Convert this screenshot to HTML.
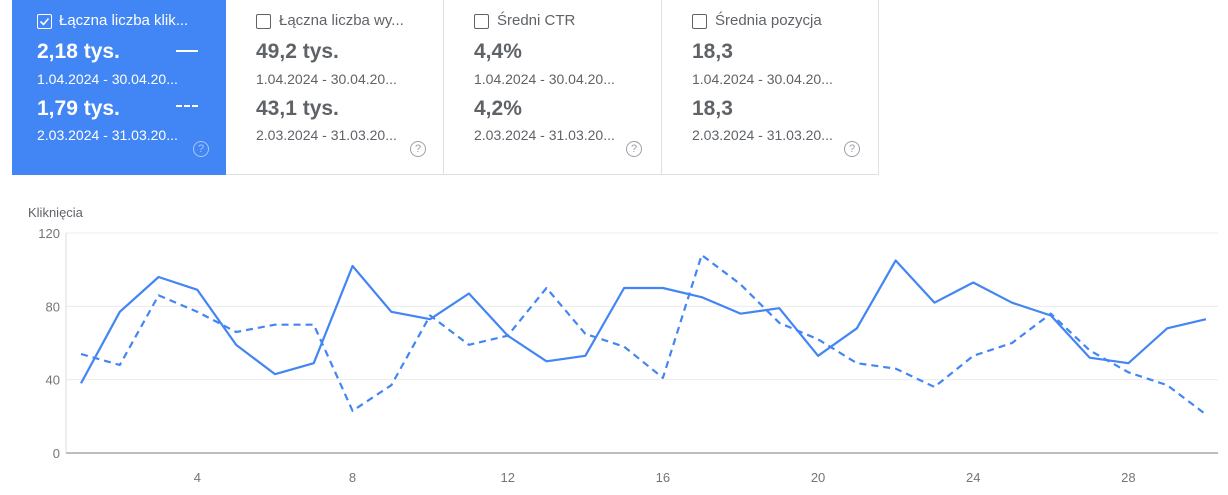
<!DOCTYPE html>
<html><head><meta charset="utf-8">
<style>
body{margin:0;width:1228px;height:495px;background:#fff;font-family:"Liberation Sans",Arial,sans-serif;position:relative;overflow:hidden}
.card{position:absolute;top:0;height:175px;box-sizing:border-box;border-right:1px solid #e0e0e0;border-bottom:1px solid #e0e0e0;color:#5f6368}
.card.sel{background:#4285f4;color:#fff;border:none}
.t{position:absolute;white-space:nowrap}
.cb{position:absolute;left:25px;top:14px;width:13px;height:13px;border:1.5px solid #5f6368;border-radius:2px}
.sel .cb{border-color:#fff}
.title{left:47px;top:12px;font-size:15px}
.v{left:25px;font-size:21px;font-weight:bold}
.d{left:25px;font-size:14px}
.help{position:absolute;width:14px;height:14px;border:1.5px solid #9aa0a6;border-radius:50%;font-size:11px;text-align:center;line-height:14px;color:#9aa0a6}
.sel .help{border-color:#a8c7fa;color:#a8c7fa}
</style></head><body>
<div class="card sel" style="left:12px;width:214px">
 <div class="cb"><svg width="13" height="13" viewBox="0 0 13 13"><path d="M2.5 6.5l3 3 5-6" stroke="#fff" stroke-width="1.6" fill="none"/></svg></div>
 <div class="t title">Łączna liczba klik...</div>
 <div class="t v" style="top:40px">2,18 tys.</div>
 <div style="position:absolute;left:164px;top:50px;width:22px;height:2px;background:#fff"></div>
 <div class="t d" style="top:71px">1.04.2024 - 30.04.20...</div>
 <div class="t v" style="top:97px">1,79 tys.</div>
 <div style="position:absolute;left:164px;top:105px;width:22px;height:0;border-top:2px dashed #fff"></div>
 <div class="t d" style="top:127px">2.03.2024 - 31.03.20...</div>
 <div class="help" style="left:181px;top:141px">?</div>
</div>
<div class="card" style="left:226px;width:218px">
 <div class="cb" style="left:30px"></div>
 <div class="t title" style="left:53px">Łączna liczba wy...</div>
 <div class="t v" style="top:40px;left:30px">49,2 tys.</div>
 <div class="t d" style="top:71px;left:30px">1.04.2024 - 30.04.20...</div>
 <div class="t v" style="top:97px;left:30px">43,1 tys.</div>
 <div class="t d" style="top:127px;left:30px">2.03.2024 - 31.03.20...</div>
 <div class="help" style="left:184px;top:141px">?</div>
</div>
<div class="card" style="left:444px;width:218px">
 <div class="cb" style="left:30px"></div>
 <div class="t title" style="left:53px">Średni CTR</div>
 <div class="t v" style="top:40px;left:30px">4,4%</div>
 <div class="t d" style="top:71px;left:30px">1.04.2024 - 30.04.20...</div>
 <div class="t v" style="top:97px;left:30px">4,2%</div>
 <div class="t d" style="top:127px;left:30px">2.03.2024 - 31.03.20...</div>
 <div class="help" style="left:182px;top:141px">?</div>
</div>
<div class="card" style="left:662px;width:217px">
 <div class="cb" style="left:30px"></div>
 <div class="t title" style="left:53px">Średnia pozycja</div>
 <div class="t v" style="top:40px;left:30px">18,3</div>
 <div class="t d" style="top:71px;left:30px">1.04.2024 - 30.04.20...</div>
 <div class="t v" style="top:97px;left:30px">18,3</div>
 <div class="t d" style="top:127px;left:30px">2.03.2024 - 31.03.20...</div>
 <div class="help" style="left:182px;top:141px">?</div>
</div>
<svg id="chart" width="1228" height="495" style="position:absolute;left:0;top:0"></svg>
<script>
const days=[1,2,3,4,5,6,7,8,9,10,11,12,13,14,15,16,17,18,19,20,21,22,23,24,25,26,27,28,29,30];
const currentClicks=[38,77,96,89,59,43,49,102,77,73,87,64,50,53,90,90,85,76,79,53,68,105,82,93,82,75,52,49,68,73];
const previousClicks=[54,48,86,77,66,70,70,23,37,75,59,64,90,65,58,41,108,92,71,62,49,46,36,53,60,76,56,44,37,21];
const yTicks=[0,40,80,120];
const xTicks=[4,8,12,16,20,24,28];
const svg=document.getElementById('chart');const NS='http://www.w3.org/2000/svg';
const X0=66,X1=1218,Y0=453,Y1=233;
const xs=d=>81+(d-1)*(1206-81)/29;
const ys=v=>Y0-(v/120)*(Y0-Y1);
function mk(tag,attrs){const e=document.createElementNS(NS,tag);for(const k in attrs)e.setAttribute(k,attrs[k]);svg.appendChild(e);return e;}
const yt=mk('text',{x:28,y:217,'font-size':13,fill:'#5f6368','font-family':'Liberation Sans, sans-serif'});yt.textContent='Kliknięcia';


yTicks.forEach(v=>{
 const g=mk('line',{x1:X0,x2:X1,y1:ys(v),y2:ys(v),stroke:v===0?'#bdbdbd':'#ececec','stroke-width':v===0?2:1});
 
 
 const t=mk('text',{x:60,y:ys(v)+5,'text-anchor':'end','font-size':13,fill:'#757575','font-family':'Liberation Sans, sans-serif'});t.textContent=v;
 
 
});
const ax=mk('line',{x1:X0,x2:X0,y1:Y1,y2:Y0,stroke:'#dcdcdc','stroke-width':1});


xTicks.forEach(d=>{
 const t=mk('text',{x:xs(d),y:482,'text-anchor':'middle','font-size':13,fill:'#757575','font-family':'Liberation Sans, sans-serif'});t.textContent=d;
 
 
});
const pts=a=>a.map((v,i)=>xs(days[i])+','+ys(v)).join(' ');
const p2=mk('polyline',{points:pts(previousClicks),fill:'none',stroke:'#4285f4','stroke-width':2.2,'stroke-dasharray':'7,5','stroke-linejoin':'round'});


const p1=mk('polyline',{points:pts(currentClicks),fill:'none',stroke:'#4285f4','stroke-width':2.2,'stroke-linejoin':'round'});


</script>
</body></html>
